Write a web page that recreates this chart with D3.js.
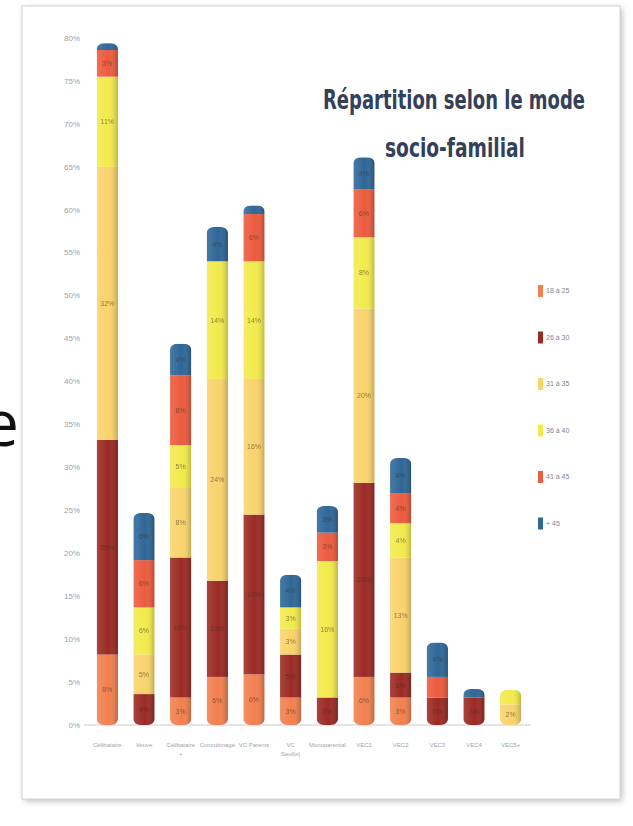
<!DOCTYPE html>
<meta charset="utf-8">
<style>
body { margin:0; background:#fff; }
svg { display:block; }
</style>
<body>
<div id="mygraph"></div>
<script src="https://d3js.org/d3.v7.min.js"></script>
<script>
// catégories (axe x)
var categories = ["Célibataire", "Veuve", "Célibataire|+", "Concubinage", "VC Parents", "VC|Seul(e)",
                  "Monoparental", "VEC1", "VEC2", "VEC3", "VEC4", "VEC5+"];
// séries (légende)
var series = ["18 à 25", "26 à 30", "31 à 35", "36 à 40", "41 à 45", "+ 45"];
var colors = ["#F2804F", "#9B2A24", "#F9D36B", "#F2EA4C", "#EC5B3E", "#2F6798"];

// valeurs en %, de bas en haut
var s18_25 = [8.2, 0,   3.2, 5.6,  5.9,  3.2, 0,    5.6,  3.2,  0,   0,   0];
var s26_30 = [25,  3.6, 16.3, 11.2, 18.6, 5.0, 3.2,  22.6, 2.9,  3.2, 3.2, 0];
var s31_35 = [31.8, 4.6, 8.1, 23.5, 15.8, 3.0, 0,    20.3, 13.4, 0,   0,   2.4];
var s36_40 = [10.5, 5.5, 5.0, 13.7, 13.7, 2.5, 15.9, 8.3,  4.0,  0,   0,   1.7];
var s41_45 = [3.1, 5.5, 8.1, 0,    5.5,  0,   3.3,  5.6,  3.5,  2.4, 0,   0];
var s45p   = [0.8, 5.5, 3.7, 4.0,  1.0,  3.8, 3.1,  3.7,  4.1,  4.0, 1.0, 0];

var yTicks = [0, 5, 10, 15, 20, 25, 30, 35, 40, 45, 50, 55, 60, 65, 70, 75, 80];

var width = 633, height = 826;
var svg = d3.select("#mygraph").append("svg").attr("width", width).attr("height", height);

var defs = svg.append("defs");
var shadow = defs.append("filter").attr("id", "shadow").attr("x", "-5%").attr("y", "-5%").attr("width", "110%").attr("height", "110%");
shadow.append("feGaussianBlur").attr("stdDeviation", 3);

var shade = defs.append("linearGradient").attr("id", "shade");
shade.append("stop").attr("offset", "0%").attr("stop-color", "#fff").attr("stop-opacity", 0.12);
shade.append("stop").attr("offset", "55%").attr("stop-color", "#fff").attr("stop-opacity", 0);
shade.append("stop").attr("offset", "100%").attr("stop-color", "#000").attr("stop-opacity", 0.22);

// bord de la diapo
svg.append("rect").attr("x", 24).attr("y", 8).attr("width", 598).attr("height", 793)
  .attr("fill", "#bbb").attr("filter", "url(#shadow)");
svg.append("rect").attr("x", 22).attr("y", 6).attr("width", 598).attr("height", 793)
  .attr("fill", "#fff").attr("stroke", "#d4d4d4");

// lettre coupée à gauche
svg.append("text").attr("x", -17).attr("y", 446)
  .attr("font-family", "'Open Sans', sans-serif").attr("font-size", 64).attr("fill", "#111").text("e");

// titre
var title = svg.append("g").attr("font-family", "'Liberation Sans Narrow', 'DejaVu Sans Condensed', sans-serif")
  .attr("font-weight", "bold").attr("fill", "#34405A").attr("font-size", 26);
title.append("text").attr("x", 323).attr("y", 109).attr("textLength", 262).attr("lengthAdjust", "spacingAndGlyphs")
  .text("Répartition selon le mode");
title.append("text").attr("x", 385).attr("y", 157).attr("textLength", 140).attr("lengthAdjust", "spacingAndGlyphs")
  .text("socio-familial");

// données empilées
var table = categories.map(function(c, i) {
  var row = {cat: c};
  row[series[0]] = s18_25[i];
  row[series[1]] = s26_30[i];
  row[series[2]] = s31_35[i];
  row[series[3]] = s36_40[i];
  row[series[4]] = s41_45[i];
  row[series[5]] = s45p[i];
  return row;
});
var stacked = d3.stack().keys(series)(table);

var xScale = d3.scaleBand().domain(categories).range([89, 529]).paddingInner(0.42).paddingOuter(0.21);
var yScale = d3.scaleLinear().domain([0, 80]).range([725, 38]);

// axe y (étiquettes seulement)
svg.append("g").selectAll("text").data(yTicks).enter().append("text")
  .attr("x", 80).attr("y", function(d) { return yScale(d); }).attr("dy", "0.35em")
  .attr("text-anchor", "end").attr("font-family", "'Liberation Sans Narrow', sans-serif")
  .attr("font-size", 8).attr("fill", "#9aa0a8")
  .text(function(d) { return d + "%"; });

// axe x
svg.append("line").attr("x1", 84).attr("x2", 531).attr("y1", yScale(0)).attr("y2", yScale(0))
  .attr("stroke", "#c8ccd2").attr("stroke-width", 1.2);

var xl = svg.append("g").selectAll("text").data(categories).enter().append("text")
  .attr("x", function(d) { return xScale(d) + xScale.bandwidth() / 2; })
  .attr("y", 747).attr("text-anchor", "middle")
  .attr("font-family", "'Liberation Sans Narrow', sans-serif").attr("font-size", 6).attr("fill", "#a0a4aa");
xl.each(function(d) {
  var parts = d.split("|");
  var t = d3.select(this);
  parts.forEach(function(p, k) {
    t.append("tspan").attr("x", t.attr("x")).attr("dy", k == 0 ? 0 : 9).text(p);
  });
});

// barres avec bouts arrondis
var bars = svg.append("g");
categories.forEach(function(c, i) {
  var top = stacked[series.length - 1][i][1];
  defs.append("clipPath").attr("id", "clip" + i).append("rect")
    .attr("x", xScale(c)).attr("y", yScale(top))
    .attr("width", xScale.bandwidth()).attr("height", yScale(0) - yScale(top))
    .attr("rx", 7).attr("ry", 6);
});

stacked.forEach(function(layer, k) {
  bars.append("g").selectAll("rect").data(layer).enter().append("rect")
    .attr("clip-path", function(d, i) { return "url(#clip" + i + ")"; })
    .attr("x", function(d) { return xScale(d.data.cat); })
    .attr("y", function(d) { return yScale(d[1]); })
    .attr("width", xScale.bandwidth())
    .attr("height", function(d) { return Math.max(0, yScale(d[0]) - yScale(d[1])); })
    .attr("fill", colors[k]);
});

// ombrage de relief
bars.append("g").selectAll("rect").data(categories).enter().append("rect")
  .attr("clip-path", function(d, i) { return "url(#clip" + i + ")"; })
  .attr("x", function(d) { return xScale(d); })
  .attr("y", 0).attr("width", xScale.bandwidth()).attr("height", 800)
  .attr("fill", "url(#shade)");

// étiquettes des segments
stacked.forEach(function(layer, k) {
  bars.append("g").selectAll("text").data(layer.filter(function(d) { return d[1] - d[0] >= 2.4; })).enter().append("text")
    .attr("x", function(d) { return xScale(d.data.cat) + xScale.bandwidth() / 2; })
    .attr("y", function(d) { return yScale((d[0] + d[1]) / 2); })
    .attr("dy", "0.35em").attr("text-anchor", "middle")
    .attr("font-family", "'Liberation Sans Narrow', sans-serif").attr("font-size", 7)
    .attr("fill", "#3a2e20").attr("opacity", 0.55)
    .text(function(d) { return Math.round(d[1] - d[0]) + "%"; });
});

// légende
var legend = svg.append("g").selectAll("g").data(series).enter().append("g")
  .attr("transform", function(d, i) { return "translate(538," + (291 + i * 46.5) + ")"; });
legend.append("rect").attr("x", 0).attr("y", -6).attr("width", 5).attr("height", 12)
  .attr("fill", function(d, i) { return colors[i]; });
legend.append("text").attr("x", 8).attr("dy", "0.35em")
  .attr("font-family", "'Liberation Sans Narrow', sans-serif").attr("font-size", 7).attr("fill", "#7d8496")
  .text(function(d) { return d; });
</script>
</body>
